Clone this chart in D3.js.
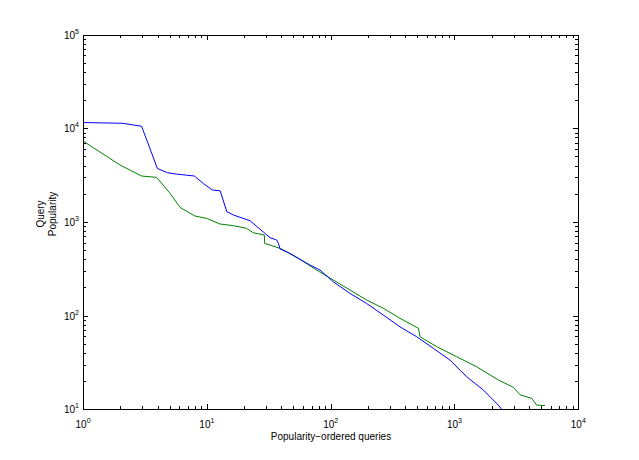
<!DOCTYPE html>
<html><head><meta charset="utf-8">
<script src="https://cdn.jsdelivr.net/npm/d3@7"></script>
<style>body{margin:0;background:#fff}svg{display:block}text{font-family:"Liberation Sans",Arial,Helvetica,sans-serif;fill:#000}</style>
</head><body>
<svg id="c" width="639" height="460"></svg>
<script>
// Blue series: [rank, popularity]
const blueRank = [1,2.07,2.97,3.98,4.79,5.7,7.92,9.36,11.07,12.8,14.5,16.4,22.3,28.6,32.4,36.6,37.8,39,46.9,56.5,68,82,105,143,195,266,363,495,675,920,1254,1710,2260,2405];
const blueVal  = [11500,11300,10500,3730,3350,3240,3090,2570,2190,2150,1285,1185,1030,780,680,641,592,515,462,399,347,307,230,173,135,101.6,76,59.6,44.8,33.6,22.3,16.1,11.1,10];
// Green series
const greenRank = [1,1.99,2.97,3.93,5.04,6.07,8.0,9.96,12.8,16.4,20.9,23.7,29.1,29.3,39,41.5,56.5,77,105,143,195,266,363,511,527,718,1040,1510,2260,2985,3390,4210,4610,5380];
const greenVal  = [7300,4050,3090,2990,2020,1430,1157,1092,950,912,855,767,725,591,523,501,399,307,240,188,147,120,93.7,73.3,59.6,46.7,36.5,28.5,20.6,17.2,14.3,13.1,11.1,11];
const xTicks = [1,10,100,1000,10000];
const yTicks = [10,100,1000,10000,100000];

const svg = d3.select("#c");
const L=83.07, R=578.3, T=34.5, B=409.4;
const x = d3.scaleLog().domain([1,10000]).range([L,R]);
const y = d3.scaleLog().domain([10,100000]).range([B,T]);

const g = svg.append("g");
const line = d3.line().x(d=>x(d[0])).y(d=>y(d[1]));
g.append("path").datum(greenRank.map((r,i)=>[r,greenVal[i]]))
  .attr("d",line).attr("fill","none").attr("stroke","#008000").attr("stroke-width",1);
g.append("path").datum(blueRank.map((r,i)=>[r,blueVal[i]]))
  .attr("d",line).attr("fill","none").attr("stroke","#0000ff").attr("stroke-width",1);

// ticks (inward, both sides)
const majLen=5, minLen=3;
const minorX=[], minorY=[];
for(let d=1; d<10000; d*=10) for(let k=2;k<10;k++) minorX.push(d*k);
for(let d=10; d<100000; d*=10) for(let k=2;k<10;k++) minorY.push(d*k);
const tk = svg.append("g").attr("stroke","#000").attr("stroke-width",1).attr("shape-rendering","crispEdges");
xTicks.forEach(v=>{const px=Math.round(x(v))+0.5;
  tk.append("line").attr("x1",px).attr("x2",px).attr("y1",B).attr("y2",B-majLen);
  tk.append("line").attr("x1",px).attr("x2",px).attr("y1",T).attr("y2",T+majLen);});
minorX.forEach(v=>{const px=Math.round(x(v))+0.5;
  tk.append("line").attr("x1",px).attr("x2",px).attr("y1",B).attr("y2",B-minLen);
  tk.append("line").attr("x1",px).attr("x2",px).attr("y1",T).attr("y2",T+minLen);});
yTicks.forEach(v=>{const py=Math.round(y(v))+0.5;
  tk.append("line").attr("y1",py).attr("y2",py).attr("x1",L).attr("x2",L+majLen);
  tk.append("line").attr("y1",py).attr("y2",py).attr("x1",R).attr("x2",R-majLen);});
minorY.forEach(v=>{const py=Math.round(y(v))+0.5;
  tk.append("line").attr("y1",py).attr("y2",py).attr("x1",L).attr("x2",L+minLen);
  tk.append("line").attr("y1",py).attr("y2",py).attr("x1",R).attr("x2",R-minLen);});
svg.append("rect").attr("x",Math.round(L)+0.5).attr("y",Math.round(T)+0.5)
  .attr("width",Math.round(R)-Math.round(L)).attr("height",Math.round(B)-Math.round(T))
  .attr("fill","none").attr("stroke","#000").attr("stroke-width",1).attr("shape-rendering","crispEdges");

// tick labels
xTicks.forEach(v=>{const e=Math.round(Math.log10(v));
  const t=svg.append("text").attr("x",x(v)).attr("y",428).attr("text-anchor","middle").style("font-size","10px");
  t.append("tspan").text("10");
  t.append("tspan").attr("dy",-5).style("font-size","7px").text(e);});
yTicks.forEach(v=>{const e=Math.round(Math.log10(v));
  const t=svg.append("text").attr("x",79).attr("y",y(v)+4).attr("text-anchor","end").style("font-size","10px");
  t.append("tspan").text("10");
  t.append("tspan").attr("dy",-5).style("font-size","7px").text(e);});

svg.append("text").attr("x",331).attr("y",440).attr("text-anchor","middle").style("font-size","10px").text("Popularity\u2212ordered queries");
const yl = svg.append("text").attr("transform","translate(44,214) rotate(-90)").attr("text-anchor","middle").style("font-size","10px");
yl.append("tspan").attr("x",0).attr("y",0).text("Query");
yl.append("tspan").attr("x",0).attr("y",12).text("Popularity");
</script>
</body></html>
